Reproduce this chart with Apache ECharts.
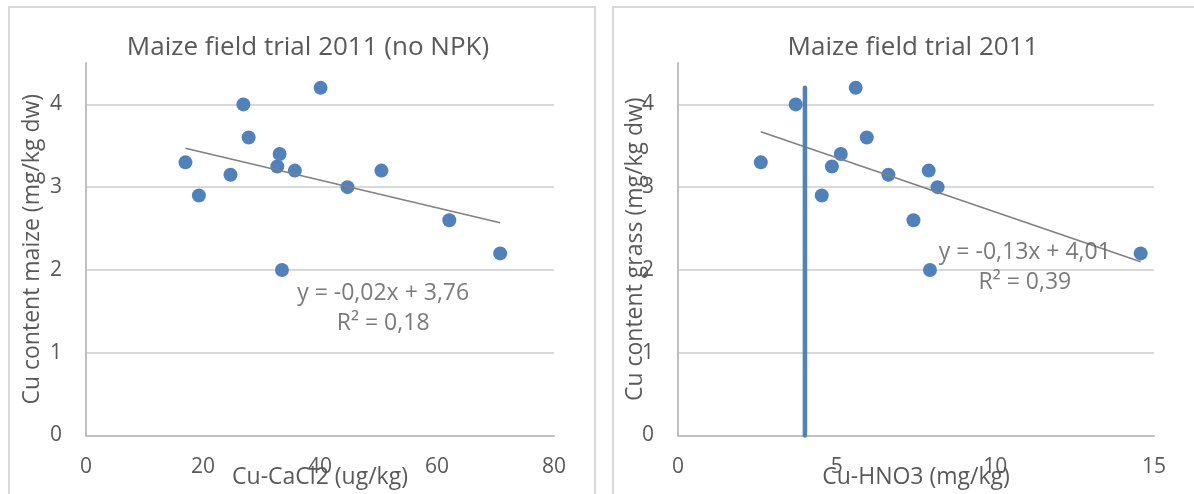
<!DOCTYPE html>
<html>
<head>
<meta charset="utf-8">
<script src="https://cdn.jsdelivr.net/npm/echarts@6/dist/echarts.min.js"></script>
<style>
html,body{margin:0;padding:0;background:#fff;}
#chart{width:1194px;height:494px;}
</style>
</head>
<body>
<div id="chart"></div>
<script>
// ---- data ----
const leftTitle = 'Maize field trial 2011 (no NPK)';
const rightTitle = 'Maize field trial 2011';
const leftXName = 'Cu-CaCl2 (ug/kg)';
const rightXName = 'Cu-HNO3 (mg/kg)';
const leftYName = 'Cu content maize (mg/kg dw)';
const rightYName = 'Cu content grass (mg/kg dw)';

const leftX = [17.0, 19.3, 24.7, 26.9, 27.8, 32.7, 33.1, 35.7, 40.1, 44.7, 50.5, 62.1, 70.8, 33.5];
const leftY = [3.3, 2.9, 3.15, 4.0, 3.6, 3.25, 3.4, 3.2, 4.2, 3.0, 3.2, 2.6, 2.2, 2.0];

const rightX = [2.61, 3.71, 4.53, 4.85, 5.13, 5.60, 5.95, 6.63, 7.42, 7.90, 8.18, 14.58, 7.94];
const rightY = [3.3, 4.0, 2.9, 3.25, 3.4, 4.2, 3.6, 3.15, 2.6, 3.2, 3.0, 2.2, 2.0];

const leftTrendX = [17.0, 70.8];
const leftTrendY = [3.47, 2.57];
const rightTrendX = [2.61, 14.58];
const rightTrendY = [3.67, 2.10];

const markerLineX = [4.0, 4.0];
const markerLineY = [0, 4.2];

const leftEquation = ['y = -0,02x + 3,76', 'R² = 0,18'];
const leftEquationPos = [50.8, 1.54];
const rightEquation = ['y = -0,13x + 4,01', 'R² = 0,39'];
const rightEquationPos = [10.93, 2.03];

const leftXTicks = {min: 0, max: 80, interval: 20};
const rightXTicks = {min: 0, max: 15, interval: 5};
const yTicks = {min: 0, max: 4.5, interval: 1};

// ---- build ----
const FONT = 'Open Sans';
const TXT = '#595959';
const pairs = (xs, ys) => xs.map((x, i) => [x, ys[i]]);

function xAxis(idx, t, name) {
  return {
    type: 'value', gridIndex: idx, min: t.min, max: t.max, interval: t.interval,
    name: name, nameLocation: 'middle', nameGap: 30, nameMoveOverlap: false,
    nameTextStyle: {fontFamily: FONT, fontSize: 23, color: TXT},
    axisLine: {show: true, lineStyle: {color: '#bfbfbf', width: 2}},
    axisTick: {show: false},
    splitLine: {show: false},
    axisLabel: {fontFamily: FONT, fontSize: 21, color: TXT, margin: 21}
  };
}
function yAxis(idx, name, gap) {
  return {
    type: 'value', gridIndex: idx, min: yTicks.min, max: yTicks.max, interval: yTicks.interval,
    name: name, nameLocation: 'middle', nameGap: gap, nameMoveOverlap: false,
    nameTextStyle: {fontFamily: FONT, fontSize: 23, color: TXT},
    axisLine: {show: true, lineStyle: {color: '#bfbfbf', width: 2}},
    axisTick: {show: false},
    splitLine: {show: true, showMaxLine: false, lineStyle: {color: '#d9d9d9', width: 2}},
    axisLabel: {fontFamily: FONT, fontSize: 21, color: TXT, margin: 24, showMaxLabel: false}
  };
}
function eqSeries(idx, pos, lines) {
  return {
    type: 'scatter', xAxisIndex: idx, yAxisIndex: idx, z: 5,
    symbolSize: 0, silent: true,
    data: [{value: pos, name: lines.join('\n')}],
    label: {show: true, position: 'inside', formatter: '{b}', fontFamily: FONT,
      fontSize: 23, lineHeight: 30, color: TXT, align: 'center'}
  };
}

const chart = echarts.init(document.getElementById('chart'), null, {renderer: 'canvas'});
chart.setOption({
  animation: false,
  backgroundColor: '#ffffff',
  graphic: [
    {type: 'rect', shape: {x: 9, y: 7, width: 586, height: 520}, style: {fill: 'none', stroke: '#d9d9d9', lineWidth: 2}, z: -10},
    {type: 'rect', shape: {x: 613, y: 7, width: 620, height: 520}, style: {fill: 'none', stroke: '#d9d9d9', lineWidth: 2}, z: -10}
  ],
  title: [
    {text: leftTitle, left: 303, top: 30, textAlign: 'center', textStyle: {fontFamily: FONT, fontSize: 26, fontWeight: 'normal', color: TXT}},
    {text: rightTitle, left: 908, top: 30, textAlign: 'center', textStyle: {fontFamily: FONT, fontSize: 26, fontWeight: 'normal', color: TXT}}
  ],
  grid: [
    {left: 86, right: 1194 - 554, top: 63, bottom: 494 - 435.5, outerBoundsMode: 'none', containLabel: false},
    {left: 678, right: 1194 - 1154, top: 63, bottom: 494 - 435.5, outerBoundsMode: 'none', containLabel: false}
  ],
  xAxis: [xAxis(0, leftXTicks, leftXName), xAxis(1, rightXTicks, rightXName)],
  yAxis: [yAxis(0, leftYName, 42), yAxis(1, rightYName, 31)],
  series: [
    {type: 'scatter', xAxisIndex: 0, yAxisIndex: 0, symbolSize: 14, z: 2,
     itemStyle: {color: '#4f81bd', opacity: 1}, data: pairs(leftX, leftY)},
    {type: 'line', xAxisIndex: 0, yAxisIndex: 0, symbol: 'none', z: 3,
     lineStyle: {color: '#808080', width: 1.6}, data: pairs(leftTrendX, leftTrendY)},
    eqSeries(0, leftEquationPos, leftEquation),
    {type: 'scatter', xAxisIndex: 1, yAxisIndex: 1, symbolSize: 14, z: 2,
     itemStyle: {color: '#4f81bd', opacity: 1}, data: pairs(rightX, rightY)},
    {type: 'line', xAxisIndex: 1, yAxisIndex: 1, symbol: 'none', z: 3,
     lineStyle: {color: '#808080', width: 1.6}, data: pairs(rightTrendX, rightTrendY)},
    {type: 'line', xAxisIndex: 1, yAxisIndex: 1, symbol: 'none', z: 4,
     lineStyle: {color: '#4f81bd', width: 4.5, cap: 'round'}, data: pairs(markerLineX, markerLineY)},
    eqSeries(1, rightEquationPos, rightEquation)
  ]
});
</script>
</body>
</html>
